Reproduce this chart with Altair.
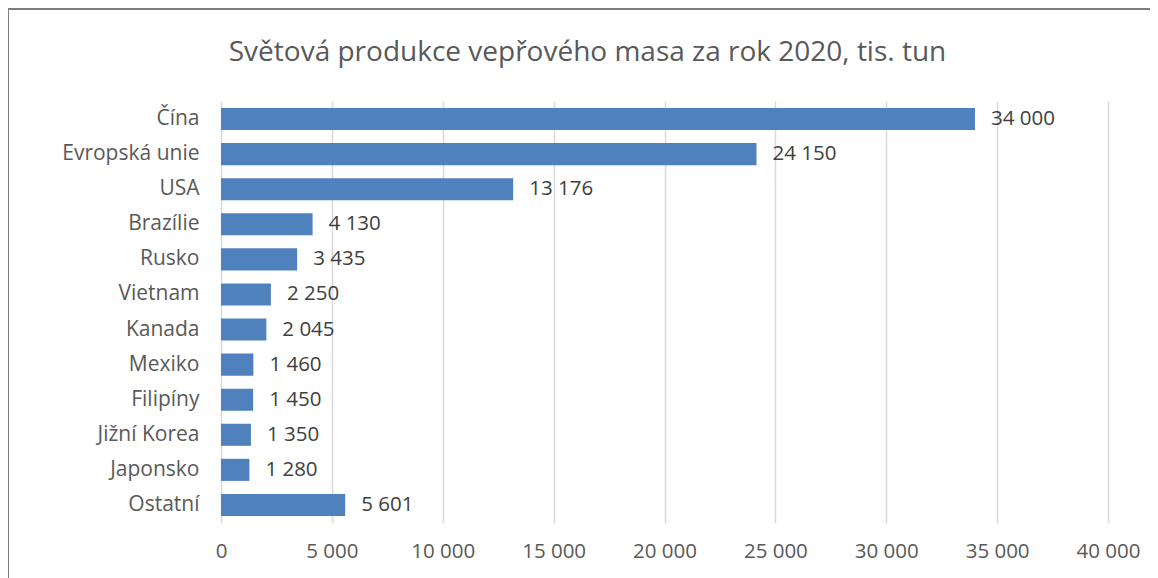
import altair as alt
import pandas as pd

countries = ["Čína", "Evropská unie", "USA", "Brazílie", "Rusko", "Vietnam", "Kanada",
             "Mexiko", "Filipíny", "Jižní Korea", "Japonsko", "Ostatní"]
values = [34000, 24150, 13176, 4130, 3435, 2250, 2045, 1460, 1450, 1350, 1280, 5601]

df = pd.DataFrame({
    "country": countries,
    "value": values,
    "label": [f"{v:,}".replace(",", " ") for v in values],
})

FONT = "Open Sans"
GREY = "#595959"
W, H = 887, 422

base = alt.Chart(df)
y_enc = alt.Y("country:N", sort=countries, title=None,
              scale=alt.Scale(paddingInner=0.37, paddingOuter=0.2),
              axis=alt.Axis(labelFontSize=21, labelColor=GREY, labelFont=FONT,
                            ticks=False, domain=False, grid=False, labelPadding=22))
x_enc = alt.X("value:Q", title=None,
              scale=alt.Scale(domain=[0, 40000], nice=False),
              axis=alt.Axis(values=list(range(0, 40001, 5000)),
                            labelExpr="replace(format(datum.value, ','), ',', ' ')",
                            labelFontSize=20.5, labelColor=GREY, labelFont=FONT,
                            labelFlush=False, labelOverlap=False,
                            ticks=False, domain=False, grid=True, gridColor="#d9d9d9",
                            gridWidth=1.5, labelPadding=18))

bars = base.mark_bar(color="#4f81bd").encode(x=x_enc, y=y_enc)
texts = base.mark_text(align="left", baseline="middle", dx=16, fontSize=20.5,
                       font=FONT, color="#404040").encode(
    x="value:Q", y=alt.Y("country:N", sort=countries), text="label:N")

border = base.mark_rect(fill=None, stroke="#7f7f7f", strokeWidth=1, clip=False).encode(
    x=alt.value(-213), x2=alt.value(W + 80), y=alt.value(-92), y2=alt.value(H + 120))

chart = alt.layer(bars, texts, border).properties(
    width=W, height=H,
    autosize=alt.AutoSizeParams(type="none"),
    padding={"left": 213, "top": 93, "right": 42, "bottom": 55},
    title=alt.TitleParams("Světová produkce vepřového masa za rok 2020, tis. tun",
                          fontSize=28, font=FONT, color=GREY, fontWeight="normal",
                          anchor="middle", dx=-77, offset=0, dy=58),
).configure_view(stroke=None)

chart.save("out.html", embed_options={"renderer": "svg", "actions": False})
